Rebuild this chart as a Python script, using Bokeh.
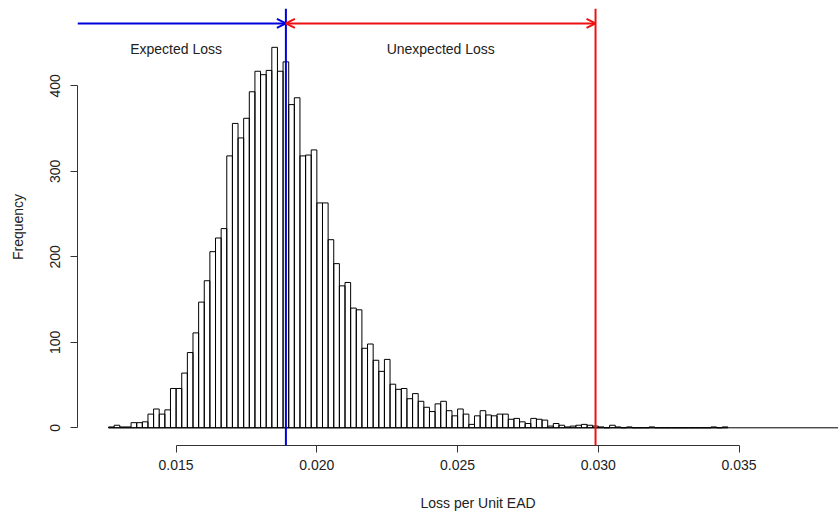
import numpy as np
from bokeh.plotting import figure
from bokeh.models import (LinearAxis, FixedTicker, NumeralTickFormatter, Span,
                          Arrow, OpenHead, ColumnDataSource, Range1d, Title)
from bokeh.core.properties import value
from bokeh.embed import file_html
from bokeh.resources import INLINE

# ---------------- data ----------------
bin_start = 0.0126
bin_width = 0.0002
counts = [1, 3, 1, 1, 6, 6, 7, 16, 22, 16,
          21, 46, 46, 64, 88, 111, 147, 172, 206, 222,
          233, 318, 356, 339, 362, 393, 417, 413, 418, 445,
          417, 428, 378, 386, 318, 319, 325, 263, 263, 220,
          192, 166, 170, 140, 138, 93, 98, 79, 66, 80,
          51, 45, 46, 34, 40, 31, 24, 19, 28, 31,
          20, 14, 22, 16, 4, 14, 20, 15, 14, 16,
          16, 10, 11, 7, 5, 11, 10, 9, 2, 5,
          3, 1, 2, 3, 4, 3, 2, 1, 0, 3,
          1, 0, 1, 0, 0, 0, 1, 0, 0, 0,
          0, 0, 0, 0, 0, 0, 0, 1, 0, 1]
x_ticks = [0.015, 0.020, 0.025, 0.030, 0.035]
y_ticks = [0, 100, 200, 300, 400]
expected_loss = 0.0189
loss_limit = 0.0299
x_label = "Loss per Unit EAD"
y_label = "Frequency"
el_text = "Expected Loss"
ul_text = "Unexpected Loss"
el_text_x = 0.0150
ul_text_x = (expected_loss + loss_limit) / 2
text_y = 443
arrow_y = 473

# ---------------- figure ----------------
FONT = "Liberation Sans"
TXT = "#222222"
xr = Range1d(0.011497, 0.038531)
yr = Range1d(-20.7, 490.4)

p = figure(width=838, height=518, x_range=xr, y_range=yr,
           output_backend="svg", toolbar_location=None,
           min_border_left=77, min_border_right=0, min_border_top=8,
           min_border_bottom=73)
p.outline_line_color = None
p.xgrid.visible = False
p.ygrid.visible = False
p.background_fill_color = "white"
p.border_fill_color = "white"

n = len(counts)
left = [bin_start + i * bin_width for i in range(n)]
right = [bin_start + (i + 1) * bin_width for i in range(n)]
src = ColumnDataSource(dict(left=left, right=right, top=counts, bottom=[0] * n))
p.quad(left="left", right="right", top="top", bottom="bottom", source=src,
       fill_color=None, line_color="black", line_width=1)
p.segment(x0=[left[0]], y0=[0], x1=[xr.end], y1=[0], line_color="black", line_width=1)

# vertical lines
p.add_layout(Span(location=expected_loss, dimension="height", line_color="#0000dd", line_width=2))
p.add_layout(Span(location=loss_limit, dimension="height", line_color="#ee1111", line_width=2))

# arrows
p.add_layout(Arrow(end=OpenHead(size=9, line_color="#0000dd", line_width=2),
                   x_start=xr.start, y_start=arrow_y, x_end=expected_loss, y_end=arrow_y,
                   line_color="#0000dd", line_width=2))
p.add_layout(Arrow(start=OpenHead(size=9, line_color="#ee1111", line_width=2),
                   end=OpenHead(size=9, line_color="#ee1111", line_width=2),
                   x_start=expected_loss, y_start=arrow_y, x_end=loss_limit, y_end=arrow_y,
                   line_color="#ee1111", line_width=2))

# texts
p.text(x=[el_text_x, ul_text_x], y=[text_y, text_y], text=[el_text, ul_text],
       text_font=value(FONT), text_font_size="14px", text_color=TXT,
       text_align="center", text_baseline="middle")

# x axis
xa = p.xaxis[0]
xa.ticker = FixedTicker(ticks=x_ticks)
xa.formatter = NumeralTickFormatter(format="0.000")
xa.bounds = (x_ticks[0], x_ticks[-1])
xa.major_label_text_font = FONT
xa.major_label_text_font_size = "14px"
xa.major_label_text_color = TXT
xa.axis_line_color = "#333333"
xa.major_tick_line_color = "#333333"
xa.major_tick_out = 7
xa.major_tick_in = 0
xa.minor_tick_line_color = None
xa.major_label_standoff = 7

# x label: R centres it on its wider plot region -> left-aligned title with offset;
# a leading blank line drops it to R's second margin line
p.add_layout(Title(text="\n" + x_label, align="left", offset=343, text_font=FONT,
                   text_font_size="14px", text_font_style="normal",
                   text_color=TXT, standoff=8), "below")

# y axis
ya = p.yaxis[0]
ya.ticker = FixedTicker(ticks=y_ticks)
ya.bounds = (y_ticks[0], y_ticks[-1])
ya.major_label_orientation = "vertical"
ya.major_label_text_font = FONT
ya.major_label_text_font_size = "14px"
ya.major_label_text_color = TXT
ya.axis_line_color = "#333333"
ya.major_tick_line_color = "#333333"
ya.major_tick_out = 7
ya.major_tick_in = 0
ya.minor_tick_line_color = None
ya.major_label_standoff = 10

ya2 = LinearAxis(ticker=FixedTicker(ticks=[]), axis_label=y_label,
                 axis_line_color=None, major_tick_line_color=None,
                 minor_tick_line_color=None)
ya2.axis_label_text_font = FONT
ya2.axis_label_text_font_size = "14px"
ya2.axis_label_text_font_style = "normal"
ya2.axis_label_text_color = TXT
ya2.axis_label_standoff = 22
p.add_layout(ya2, "left")

open("out.html", "w").write(file_html(p, INLINE))
